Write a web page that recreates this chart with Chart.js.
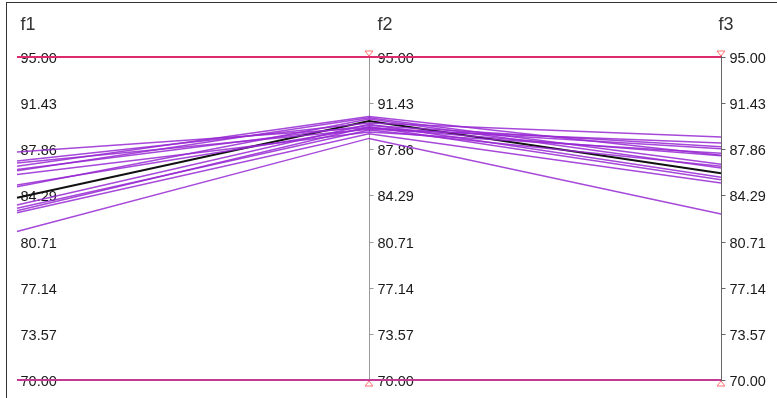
<!DOCTYPE html>
<html>
<head>
<meta charset="utf-8">
<script src="https://cdn.jsdelivr.net/npm/chart.js@4.4.1/dist/chart.umd.min.js"></script>
<style>
    body { margin: 0; background: #fff; }
    #wrap { position: relative; width: 777px; height: 398px; }
    #frame { position: absolute; left: 6px; top: 2px; right: 0; bottom: 0;
             border-left: 1px solid #333; border-top: 1px solid #333; pointer-events: none; }
</style>
</head>
<body>
<div id="wrap">
    <canvas id="pcChart" width="777" height="398"></canvas>
    <div id="frame"></div>
</div>
<script>
// axes of the parallel coordinates plot
const axisNames = ['f1', 'f2', 'f3'];
const tickValues = [70, 73.57, 77.14, 80.71, 84.29, 87.86, 91.43, 95];
const upperLimit = 95;
const lowerLimit = 70;

// one value per line on each axis
const f1Values = [87.65, 86.95, 86.8, 86.55, 86.3, 86.2, 85.9, 85.1, 84.95, 83.55, 83.3, 83.1, 82.95, 81.5];
const f2Values = [89.55, 89.9, 89.4, 90.4, 89.7, 90.3, 89.2, 89.5, 90.2, 89.8, 89.35, 89.6, 89.05, 88.7];
const f3Values = [87.9, 88.8, 88.35, 87.4, 88.05, 86.7, 87.55, 87.35, 86.4, 85.7, 86.55, 85.5, 85.25, 82.85];

// highlighted (black) line
const highlightValues = [84.1, 90.05, 86.0];

document.addEventListener('DOMContentLoaded', () => {
    "use strict";

    var datasets = [];

    // purple lines
    f1Values.forEach(function(v, i) {
        datasets.push({
            data: [v, f2Values[i], f3Values[i]],
            borderColor: 'rgba(150, 40, 210, 0.85)',
            borderWidth: 1.5,
            pointRadius: 0,
            clip: false
        });
    });

    // black line on top
    datasets.push({
        data: highlightValues,
        borderColor: '#111',
        borderWidth: 2,
        pointRadius: 0,
        clip: false
    });

    // limit lines
    datasets.push({
        data: axisNames.map(function() { return upperLimit; }),
        borderColor: '#dc2a6a',
        borderWidth: 2,
        pointRadius: 0,
        clip: false
    });
    datasets.push({
        data: axisNames.map(function() { return lowerLimit; }),
        borderColor: '#c23a94',
        borderWidth: 2,
        pointRadius: 0,
        clip: false
    });

    // Axis lines, ticks and labels for each coordinate
    var axesPlugin = {
        id: 'parallelAxes',
        beforeDatasetsDraw: function(chart) {
            var ctx = chart.ctx;
            var xs = chart.scales.x;
            var ys = chart.scales.y;
            var top = ys.getPixelForValue(upperLimit);
            var bottom = ys.getPixelForValue(lowerLimit);
            var labelOffset = [3, 8, 8];
            var titleOffset = [3, 8, -3];
            var lineColor = ['rgba(0,0,0,0)', '#999', '#666'];

            ctx.save();
            axisNames.forEach(function(name, i) {
                var x = Math.round(xs.getPixelForValue(i)) + 0.5;

                // axis line
                ctx.strokeStyle = lineColor[i];
                ctx.lineWidth = 1;
                ctx.beginPath();
                ctx.moveTo(x, top - 6);
                ctx.lineTo(x, bottom + 6);
                ctx.stroke();

                // ticks and labels
                ctx.font = '14.5px "Liberation Sans", Arial, sans-serif';
                ctx.fillStyle = '#1a1a1a';
                ctx.textAlign = 'left';
                ctx.textBaseline = 'middle';
                ys.ticks.forEach(function(t) {
                    var y = Math.round(ys.getPixelForValue(t.value)) + 0.5;
                    if (i > 0) {
                        ctx.beginPath();
                        ctx.moveTo(x, y);
                        ctx.lineTo(x + 4, y);
                        ctx.stroke();
                    }
                    ctx.fillText(t.value.toFixed(2), x + labelOffset[i], y + 1);
                });

                // axis title
                ctx.font = '18px "Liberation Sans", Arial, sans-serif';
                ctx.fillStyle = '#333';
                ctx.fillText(name, x + titleOffset[i], 25);
            });
            ctx.restore();
        },
        afterDatasetsDraw: function(chart) {
            // filter markers at the range ends of f2 and f3
            var ctx = chart.ctx;
            var xs = chart.scales.x;
            var ys = chart.scales.y;
            var top = ys.getPixelForValue(upperLimit);
            var bottom = ys.getPixelForValue(lowerLimit);
            ctx.save();
            ctx.strokeStyle = '#ff6f6f';
            ctx.fillStyle = '#fff';
            ctx.lineWidth = 1;
            for (var i = 1; i < axisNames.length; i++) {
                var x = xs.getPixelForValue(i);
                ctx.beginPath();
                ctx.moveTo(x - 4, top - 6);
                ctx.lineTo(x + 4, top - 6);
                ctx.lineTo(x, top - 1);
                ctx.closePath();
                ctx.fill();
                ctx.stroke();
                ctx.beginPath();
                ctx.moveTo(x - 4, bottom + 6);
                ctx.lineTo(x + 4, bottom + 6);
                ctx.lineTo(x, bottom + 1);
                ctx.closePath();
                ctx.fill();
                ctx.stroke();
            }
            ctx.restore();
        }
    };

    var ctxChart = document.getElementById('pcChart').getContext('2d');
    new Chart(ctxChart, {
        type: 'line',
        data: {
            labels: axisNames,
            datasets: datasets
        },
        options: {
            responsive: false,
            animation: false,
            layout: {
                padding: { left: 17, right: 56, top: 57, bottom: 18 }
            },
            plugins: {
                legend: { display: false },
                tooltip: { enabled: false }
            },
            scales: {
                x: {
                    type: 'category',
                    offset: false,
                    display: false
                },
                y: {
                    min: lowerLimit,
                    max: upperLimit,
                    display: false,
                    afterBuildTicks: function(scale) {
                        scale.ticks = tickValues.map(function(v) { return { value: v }; });
                    }
                }
            }
        },
        plugins: [axesPlugin]
    });
});
</script>
</body>
</html>
